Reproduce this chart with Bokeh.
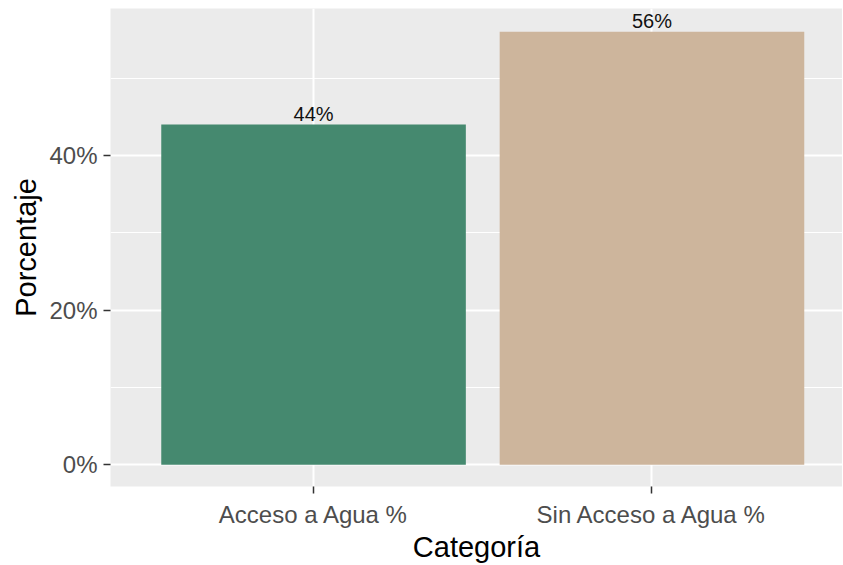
from bokeh.plotting import figure
from bokeh.models import FixedTicker, Range1d
from bokeh.embed import file_html
from bokeh.resources import INLINE
from bokeh.core.properties import value

# ---- data ----
categories = ["Acceso a Agua %", "Sin Acceso a Agua %"]
percentages = [44, 56]
bar_labels = ["44%", "56%"]
bar_colors = ["#45896F", "#CDB59C"]
y_ticks = [0, 20, 40]
y_tick_labels = ["0%", "20%", "40%"]
y_minor = [10, 30, 50]

xs = [i + 1 for i in range(len(categories))]

p = figure(width=842, height=565, output_backend="svg", toolbar_location=None,
           x_range=Range1d(0.4, 2.563), y_range=Range1d(-2.8, 59.0),
           min_border_left=110, min_border_right=0, min_border_top=8, min_border_bottom=60)

p.background_fill_color = "#EBEBEB"
p.border_fill_color = "white"
p.outline_line_color = None

# grids
p.xgrid.ticker = FixedTicker(ticks=xs)
p.xgrid.grid_line_color = "white"
p.xgrid.grid_line_width = 2
p.ygrid.ticker = FixedTicker(ticks=y_ticks, minor_ticks=y_minor)
p.ygrid.grid_line_color = "white"
p.ygrid.grid_line_width = 2
p.ygrid.minor_grid_line_color = "white"
p.ygrid.minor_grid_line_width = 1.2

# bars
p.vbar(x=xs, top=percentages, bottom=0, width=0.9, fill_color=bar_colors, line_color=None)

# labels
p.text(x=xs, y=percentages, text=bar_labels, text_align="center", text_baseline="bottom",
       y_offset=0, text_font=value("Liberation Sans"), text_font_size="20px",
       text_color="#111111")

# axes
for ax in (p.xaxis, p.yaxis):
    ax.axis_line_color = None
    ax.major_tick_line_color = "#333333"
    ax.major_tick_line_width = 1.5
    ax.major_tick_out = 7
    ax.major_tick_in = 0
    ax.minor_tick_line_color = None
    ax.major_label_text_font = "Liberation Sans"
    ax.major_label_text_font_size = "24px"
    ax.major_label_text_color = "#4D4D4D"
    ax.axis_label_text_font = "Liberation Sans"
    ax.axis_label_text_font_size = "29px"
    ax.axis_label_text_font_style = "normal"
    ax.axis_label_text_color = "black"

p.xaxis.ticker = FixedTicker(ticks=xs)
p.xaxis.major_label_overrides = {x: c for x, c in zip(xs, categories)}
p.xaxis.major_label_standoff = 7
p.xaxis.axis_label = "Categoría"
p.xaxis.axis_label_standoff = 0

p.yaxis.ticker = FixedTicker(ticks=y_ticks)
p.yaxis.major_label_overrides = {t: l for t, l in zip(y_ticks, y_tick_labels)}
p.yaxis.major_label_standoff = 6
p.yaxis.axis_label = "Porcentaje"
p.yaxis.axis_label_standoff = 4

open("out.html", "w").write(file_html(p, INLINE))
